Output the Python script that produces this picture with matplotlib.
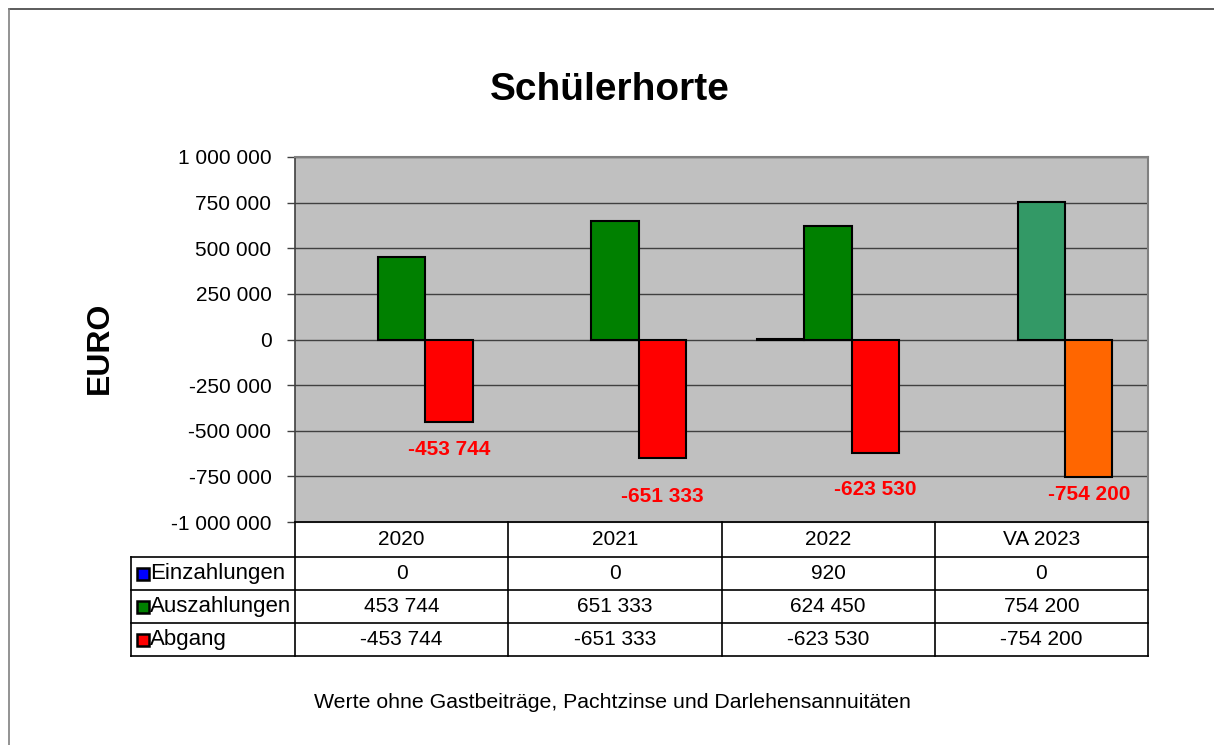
import numpy as np
import matplotlib
matplotlib.use("Agg")
import matplotlib.pyplot as plt
from matplotlib.patches import Rectangle
from matplotlib.ticker import FuncFormatter
import matplotlib.transforms as mtransforms

# -----
# Data
# -----
years = ["2020", "2021", "2022", "VA 2023"]
series_names = ["Einzahlungen", "Auszahlungen", "Abgang"]
einzahlungen = [0, 0, 920, 0]
auszahlungen = [453744, 651333, 624450, 754200]
abgang = [-453744, -651333, -623530, -754200]

# bar colours (last year = plan, drawn in other colours)
colors_ein = ["#0000FF", "#0000FF", "#0000FF", "#0000FF"]
colors_aus = ["#008000", "#008000", "#008000", "#339966"]
colors_abg = ["#FF0000", "#FF0000", "#FF0000", "#FF6600"]
legend_colors = ["#0000FF", "#008000", "#FF0000"]

# red data labels were moved by hand in the original, these are their y spots
label_y = [-603000, -860000, -822000, -849000]


def fmt_num(v, pos=None):
    s = f"{abs(int(round(v))):,}".replace(",", " ")
    return ("-" if v < 0 else "") + s


def edge_widths(vals):
    # zero bars are not drawn at all (no edge line)
    return [0 if v == 0 else 1.5 for v in vals]


plt.rcParams["font.family"] = ["Liberation Sans", "DejaVu Sans"]

W, H = 1214, 745
fig = plt.figure(figsize=(W / 100, H / 100), dpi=100)

# axes in pixel coordinates of the reference
left, right, top, bottom = 295, 1148, 157, 522
ax = fig.add_axes([left / W, 1 - bottom / H, (right - left) / W, (bottom - top) / H])
ax.set_facecolor("#C0C0C0")

# outer chart frame (only top and left visible)
fig.add_artist(plt.Line2D([9 / W, 1.0], [1 - 8.5 / H, 1 - 8.5 / H], color="#404040", lw=1.2))
fig.add_artist(plt.Line2D([9 / W, 9 / W], [1 - 8.5 / H, 0], color="#808080", lw=1.2))

# ------------
# Bars
# ------------
x = np.arange(len(years))
bw = 1 / 4.5
ax.bar(x - bw, einzahlungen, bw, color=colors_ein, edgecolor="black",
       linewidth=edge_widths(einzahlungen), zorder=3)
ax.bar(x, auszahlungen, bw, color=colors_aus, edgecolor="black",
       linewidth=edge_widths(auszahlungen), zorder=3)
ax.bar(x + bw, abgang, bw, color=colors_abg, edgecolor="black",
       linewidth=edge_widths(abgang), zorder=3)

for xi, v, ly in zip(x, abgang, label_y):
    ax.text(xi + bw, ly, fmt_num(v), color="#FF0000", fontsize=15, fontweight="bold",
            ha="center", va="center", zorder=4)

ax.set_xlim(-0.5, len(years) - 0.5)
ax.set_ylim(-1000000, 1000000)
ax.set_yticks(np.arange(-1000000, 1000001, 250000))
ax.yaxis.set_major_formatter(FuncFormatter(fmt_num))
ax.tick_params(axis="y", direction="out", length=6, width=1, labelsize=15, pad=11, color="#404040")
ax.set_xticks([])
ax.grid(axis="y", color="#404040", lw=1, zorder=1)
for side in ["top", "right", "bottom"]:
    ax.spines[side].set_color("#808080")
    ax.spines[side].set_linewidth(1.5)
ax.spines["left"].set_color("#404040")
ax.spines["left"].set_linewidth(1.2)

fig.text(100 / W, 1 - 348 / H, "EURO", fontsize=23, fontweight="bold", rotation=90,
         ha="center", va="center")
fig.text(610 / W, 1 - 90 / H, "Schülerhorte", fontsize=28, fontweight="bold", ha="center", va="center")

# ------------
# Data table under the chart
# ------------
trans = mtransforms.blended_transform_factory(ax.transData, ax.transAxes)
axh = bottom - top
header_h = 35 / axh
row_h = 33 / axh
label_left = -0.5 - (left - 131) / ((right - left) / len(years))
y_rows = [0, -header_h] + [-header_h - row_h * (i + 1) for i in range(3)]
line_kw = dict(color="black", lw=1.2, transform=trans, clip_on=False, zorder=5)

# horizontal lines
ax.plot([-0.5, 3.5], [y_rows[0]] * 2, **line_kw)
for yy in y_rows[1:]:
    ax.plot([label_left, 3.5], [yy, yy], **line_kw)
# vertical lines
for xv in np.arange(-0.5, 4.0, 1.0):
    ax.plot([xv, xv], [y_rows[0], y_rows[-1]], **line_kw)
ax.plot([label_left, label_left], [y_rows[1], y_rows[-1]], **line_kw)

for xi, yr in zip(x, years):
    ax.text(xi, (y_rows[0] + y_rows[1]) / 2, yr, transform=trans, ha="center", va="center", fontsize=15)

rows = [einzahlungen, auszahlungen, abgang]
px_x = 1 / ((right - left) / len(years))
for r, (name, vals, col) in enumerate(zip(series_names, rows, legend_colors)):
    yc = (y_rows[r + 1] + y_rows[r + 2]) / 2
    sq = 12
    ax.add_patch(Rectangle((label_left + 6 * px_x, yc - sq / 2 / axh), sq * px_x, sq / axh,
                           facecolor=col, edgecolor="black", lw=1.8, transform=trans, clip_on=False))
    ax.text(label_left + 19 * px_x, yc, name, transform=trans, ha="left", va="center", fontsize=16)
    for xi, v in zip(x, vals):
        ax.text(xi, yc, fmt_num(v), transform=trans, ha="center", va="center", fontsize=15)

fig.text(612 / W, 1 - 702 / H, "Werte ohne Gastbeiträge, Pachtzinse und Darlehensannuitäten",
         fontsize=15.3, ha="center", va="center")

fig.savefig("out.png", dpi=100)
